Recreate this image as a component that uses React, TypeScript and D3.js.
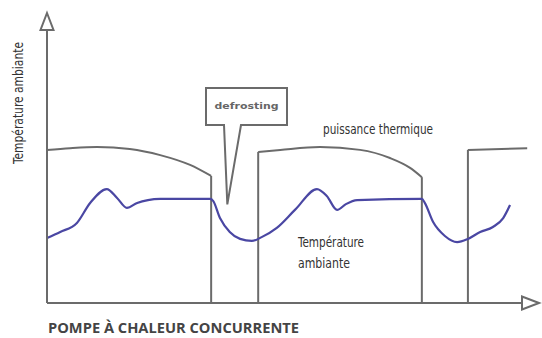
import React from 'react';
import * as d3 from 'd3';

// time axis (arbitrary units 0..100), value axis (0..100)
const tempTime = [0, 2.7, 6.1, 8.8, 12.2, 14.3, 16.3, 18.4, 20.6, 23.1, 33.3, 33.9, 35.3, 37.3, 39.4, 41.8, 43.9, 46.9, 50.6, 55.1, 57.1, 59.2, 61.0, 63.3, 76.5, 77.1, 78.8, 81.2, 83.7, 85.9, 88.4, 91.0, 93.1, 94.5];
const tempValue = [22.4, 24.5, 27.6, 34.5, 39.3, 36.2, 32.8, 34.5, 35.5, 35.9, 35.9, 35.2, 29.3, 24.5, 22.1, 21.4, 22.8, 25.9, 32.1, 39.3, 36.9, 32.1, 34.1, 35.5, 35.9, 34.5, 27.9, 23.1, 21.0, 22.1, 24.5, 26.2, 29.3, 33.8];

// heat output, one array per heating cycle
const powerTime1 = [0, 4.7, 10.2, 16.9, 23.1, 29.2, 33.5];
const powerValue1 = [52.8, 53.4, 53.8, 53.1, 51.0, 47.6, 43.8];
const powerTime2 = [43.1, 47.6, 55.7, 63.9, 70.0, 74.1, 76.5];
const powerValue2 = [52.1, 52.8, 53.8, 52.8, 50.0, 46.6, 43.4];
const powerTime3 = [85.9, 98];
const powerValue3 = [52.8, 53.4];

const defrostAt = [36.8, 34]; // where the callout points

const yLabel = 'Température ambiante';
const powerLabel = 'puissance thermique';
const tempLabel = ['Température', 'ambiante'];
const defrostLabel = 'defrosting';
const title = 'POMPE À CHALEUR CONCURRENTE';

export default function App() {
  const width = 542, height = 338;
  const x = d3.scaleLinear().domain([0, 100]).range([47, 537]);
  const y = d3.scaleLinear().domain([0, 100]).range([303, 13]);

  const smooth = d3.line<[number, number]>().x(d => x(d[0])).y(d => y(d[1])).curve(d3.curveMonotoneX);
  const straight = d3.line<[number, number]>().x(d => x(d[0])).y(d => y(d[1]));

  const zip = (a: number[], b: number[]) => a.map((t, i) => [t, b[i]] as [number, number]);
  const cycles = [zip(powerTime1, powerValue1), zip(powerTime2, powerValue2), zip(powerTime3, powerValue3)];

  const axisColor = '#6b6b6b';
  const narrow = "'Liberation Sans Narrow', 'DejaVu Sans Condensed', sans-serif";

  // callout geometry
  const tipX = x(defrostAt[0]), tipY = y(defrostAt[1]);
  const box = { l: 206, r: 287, t: 88, b: 125 };
  const callout = `M${box.l},${box.t}H${box.r}V${box.b}H241L${tipX},${tipY}L224,${box.b}H${box.l}Z`;

  return (
    <svg width={width} height={height} style={{ position: 'absolute', left: 0, top: 0, background: '#fff' }}>
      {/* power cycles */}
      {cycles.map((c, i) => {
        const first = c[0], last = c[c.length - 1];
        return (
          <g key={i} fill="none" stroke={axisColor} strokeWidth={2}>
            <path d={smooth(c) || ''} />
            {i > 0 && <path d={straight([[first[0], 0], first]) || ''} />}
            {i < cycles.length - 1 && <path d={straight([last, [last[0], 0]]) || ''} />}
          </g>
        );
      })}

      {/* temperature */}
      <path d={smooth(zip(tempTime, tempValue)) || ''} fill="none" stroke="#4a47a3" strokeWidth={2.2} strokeLinejoin="round" />

      {/* axes */}
      <g stroke={axisColor} strokeWidth={2} fill="#fff">
        <line x1={x(0)} y1={y(0)} x2={x(0)} y2={y(100) + 16} />
        <line x1={x(0)} y1={y(0)} x2={522} y2={y(0)} />
        <path d={`M${x(0)},${y(100)}L${x(0) + 6.5},${y(100) + 17}H${x(0) - 6.5}Z`} strokeLinejoin="miter" />
        <path d={`M539,${y(0)}L522,${y(0) - 6.5}V${y(0) + 6.5}Z`} />
      </g>

      {/* defrost callout */}
      <path d={callout} fill="#fff" stroke={axisColor} strokeWidth={2} />
      <text x={(box.l + box.r) / 2} y={109} textAnchor="middle" fontFamily="'DejaVu Sans', sans-serif" fontWeight="bold"
        fontSize={9.5} fill="#666" textLength={64} lengthAdjust="spacingAndGlyphs">{defrostLabel}</text>

      {/* labels */}
      <text transform="translate(23,103) rotate(-90)" textAnchor="middle" fontFamily={narrow} fontSize={14}
        fill="#333" textLength={122} lengthAdjust="spacingAndGlyphs">{yLabel}</text>
      <text x={323} y={134} fontFamily={narrow} fontSize={14} fill="#333" textLength={110} lengthAdjust="spacingAndGlyphs">{powerLabel}</text>
      <text x={298} y={247} fontFamily={narrow} fontSize={14} fill="#333" textLength={66} lengthAdjust="spacingAndGlyphs">{tempLabel[0]}</text>
      <text x={298} y={268} fontFamily={narrow} fontSize={14} fill="#333" textLength={52} lengthAdjust="spacingAndGlyphs">{tempLabel[1]}</text>
      <text x={48} y={333} fontFamily="'Open Sans', sans-serif" fontWeight="bold" fontSize={13.5} fill="#444"
        textLength={251} lengthAdjust="spacingAndGlyphs">{title}</text>
    </svg>
  );
}
